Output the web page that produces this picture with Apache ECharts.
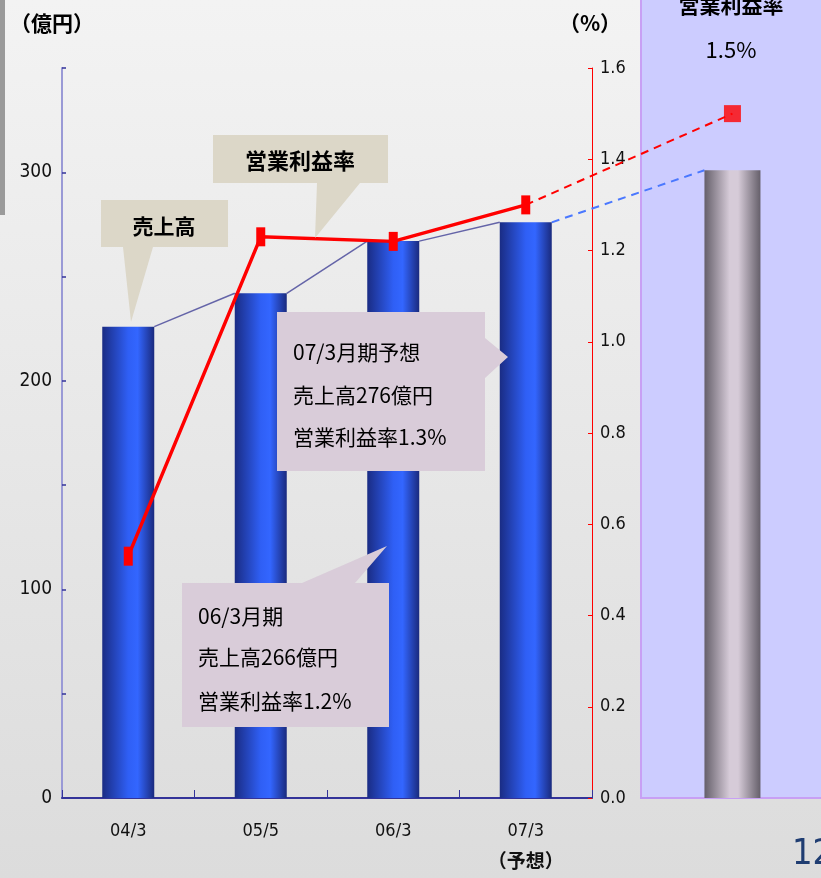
<!DOCTYPE html>
<html><head><meta charset="utf-8">
<script src="https://cdn.jsdelivr.net/npm/echarts@6/dist/echarts.min.js"></script>
<style>html,body{margin:0;padding:0;background:#eeeeee;}#c{width:821px;height:878px;}</style>
</head><body><div id="c"></div>
<script>
// ---- data ----
const categories = ['04/3', '05/5', '06/3', '07/3'];
const salesValues = [226, 242, 267, 276];          // 売上高 (億円)
const marginValues = [0.53, 1.23, 1.22, 1.30];     // 営業利益率 (%)
const forecastSales = 301;                          // next-period bar (right panel)
const forecastMargin = 1.5;                         // next-period margin (%)
const salesTickLabels = [0, 100, 200, 300];
const forecastNote = '（予想）';
const panelTitle = '営業利益率';
const panelValue = '1.5%';
const callout07 = ['07/3月期予想', '売上高276億円', '営業利益率1.3%'];
const callout06 = ['06/3月期', '売上高266億円', '営業利益率1.2%'];
const pageNo = '12';

// ---- layout ----
const W = 821, H = 878;
const GRID = { left: 62, right: 229, top: 68, bottom: 80 };
const plotW = W - GRID.left - GRID.right;
const unit = plotW / categories.length;
const BAR_W = 52, PANEL_BAR_W = 56;
const hb = BAR_W / 2 / unit;
const forecastX = 4.56;
const hpb = PANEL_BAR_W / 2 / unit;
const NARROW = '"Liberation Sans Narrow", "DejaVu Sans Condensed", sans-serif';
const JP = '"Noto Sans CJK JP", sans-serif';

const n = categories.length;
const connectors = [];
for (let i = 0; i < n - 1; i++) {
  connectors.push({ coords: [[i + hb, salesValues[i]], [i + 1 - hb, salesValues[i + 1]]] });
}

const blueGrad = new echarts.graphic.LinearGradient(0, 0, 1, 0, [
  { offset: 0, color: '#1a2c84' }, { offset: 0.5, color: '#2f5ff5' },
  { offset: 0.68, color: '#3366ff' }, { offset: 1, color: '#1a2a7e' }]);
const grayGrad = new echarts.graphic.LinearGradient(0, 0, 1, 0, [
  { offset: 0, color: '#655f6a' }, { offset: 0.45, color: '#d6cbd8' },
  { offset: 0.6, color: '#d6cbd8' }, { offset: 1, color: '#655f6a' }]);

function callout(points, fill) {
  return { type: 'polygon', z: 100, silent: true, shape: { points }, style: { fill } };
}
function txt(x, y, text, font, align, fill) {
  return { type: 'text', z: 101, silent: true, x, y,
    style: { text, font, fill: fill || '#000', align: align || 'left', verticalAlign: 'middle' } };
}

const chart = echarts.init(document.getElementById('c'), null, { renderer: 'canvas' });
chart.setOption({
  animation: false,
  grid: Object.assign({ outerBoundsMode: 'none', containLabel: false }, GRID),
  xAxis: [
    {
      type: 'category', data: categories, boundaryGap: true,
      axisLine: { show: true, onZero: false, lineStyle: { color: '#333399', width: 2 } },
      axisTick: { show: true, inside: true, length: 8, lineStyle: { color: '#333399' } },
      axisLabel: {
        margin: 22, color: '#111',
        formatter: v => v === categories[n - 1] ? '{a|' + v + '}\n{b|' + forecastNote + '}' : '{a|' + v + '}',
        rich: {
          a: { fontFamily: NARROW, fontSize: 18, lineHeight: 22, color: '#111' },
          b: { fontFamily: JP, fontWeight: 'bold', fontSize: 19, lineHeight: 38, color: '#111' }
        }
      },
      splitLine: { show: false }
    },
    { type: 'value', min: -0.5, max: n - 0.5, show: false, splitLine: { show: false },
      axisLine: { onZero: false } }
  ],
  yAxis: [
    {
      type: 'value', min: 0, max: 350, interval: 50, position: 'left',
      axisLine: { show: true, onZero: false, lineStyle: { color: '#9a9ad6', width: 2 } },
      axisTick: { show: true, inside: true, length: 4, lineStyle: { color: '#333399', width: 1.5 } },
      splitLine: { show: false },
      axisLabel: { margin: 10, color: '#111', fontFamily: NARROW, fontSize: 19,
        formatter: v => salesTickLabels.indexOf(v) >= 0 ? String(v) : '' }
    },
    {
      type: 'value', min: 0, max: 1.6, interval: 0.2, position: 'right',
      axisLine: { show: true, onZero: false, lineStyle: { color: '#ff0000', width: 1 } },
      axisTick: { show: true, inside: true, length: 4, lineStyle: { color: '#ff0000' } },
      splitLine: { show: false },
      axisLabel: { margin: 8, color: '#111', fontFamily: NARROW, fontSize: 18,
        formatter: v => v.toFixed(1) }
    }
  ],
  series: [
    { type: 'bar', name: '売上高', xAxisIndex: 0, yAxisIndex: 0, data: salesValues,
      barWidth: BAR_W, itemStyle: { color: blueGrad }, z: 3 },
    { type: 'lines', coordinateSystem: 'cartesian2d', xAxisIndex: 1, yAxisIndex: 0, clip: false,
      data: connectors, lineStyle: { color: '#6464a8', width: 1.5, opacity: 1 }, z: 2 },
    { type: 'lines', coordinateSystem: 'cartesian2d', xAxisIndex: 1, yAxisIndex: 0, clip: false,
      data: [{ coords: [[n - 1 + hb, salesValues[n - 1]], [forecastX - hpb, forecastSales]] }],
      lineStyle: { color: '#4a78ff', width: 2, type: [8, 6], opacity: 1 }, z: 2 },
    { type: 'bar', name: '予想', xAxisIndex: 1, yAxisIndex: 0, clip: false,
      data: [[forecastX, forecastSales]], barWidth: PANEL_BAR_W, itemStyle: { color: grayGrad }, z: 3 },
    { type: 'lines', coordinateSystem: 'cartesian2d', xAxisIndex: 1, yAxisIndex: 1, clip: false,
      data: [{ coords: [[n - 1, marginValues[n - 1]], [forecastX, forecastMargin]] }],
      lineStyle: { color: '#ff0000', width: 2, type: [8, 6], opacity: 1 }, z: 4 },
    { type: 'line', name: '営業利益率', xAxisIndex: 0, yAxisIndex: 1, data: marginValues,
      symbol: 'rect', symbolSize: [9, 19], showSymbol: true,
      lineStyle: { color: '#ff0000', width: 3.5 }, itemStyle: { color: '#ff0000' }, z: 5 },
    { type: 'scatter', xAxisIndex: 1, yAxisIndex: 1, clip: false,
      data: [[forecastX, forecastMargin]], symbol: 'rect', symbolSize: 17,
      itemStyle: { color: '#ff0000' }, z: 6 }
  ],
  graphic: [
    { type: 'rect', z: -100, silent: true, shape: { x: 0, y: 0, width: W, height: H },
      style: { fill: new echarts.graphic.LinearGradient(0, 0, 0, 1, [
        { offset: 0, color: '#f3f3f3' }, { offset: 1, color: '#dcdcdc' }]) } },
    { type: 'rect', z: -90, silent: true, shape: { x: 0, y: 0, width: 5, height: 215 },
      style: { fill: '#9a9a9a' } },
    { type: 'rect', z: -80, silent: true, shape: { x: 641, y: -3, width: 200, height: 801 },
      style: { fill: '#ccccff', stroke: '#c8a0f4', lineWidth: 2 } },
    txt(731, 5, panelTitle, 'bold 21px ' + JP, 'center'),
    txt(731, 50, panelValue, '22px ' + JP, 'center'),
    txt(52, 23, '（億円）', 'bold 21px ' + JP, 'center'),
    txt(590, 23, '（%）', 'bold 21px ' + JP, 'center'),
    txt(792, 855, pageNo, '36px ' + NARROW, 'left', '#1f3d72'),
    callout([[101,200],[228,200],[228,247],[153,247],[131,322],[123,247],[101,247]], '#dcd7c8'),
    txt(164, 226, '売上高', 'bold 21px ' + JP, 'center'),
    callout([[213,135],[388,135],[388,183],[360,183],[315,238],[317,183],[213,183]], '#dcd7c8'),
    txt(300, 161, '営業利益率', 'bold 22px ' + JP, 'center'),
    callout([[277,312],[485,312],[485,338],[508,357],[485,378],[485,471],[277,471]], '#d9ccd9'),
    txt(293, 352, callout07[0], '21px ' + JP),
    txt(293, 395, callout07[1], '21px ' + JP),
    txt(293, 437, callout07[2], '21px ' + JP),
    callout([[182,583],[302,583],[387,546],[355,583],[389,583],[389,727],[182,727]], '#d9ccd9'),
    txt(198, 616, callout06[0], '21px ' + JP),
    txt(198, 657, callout06[1], '21px ' + JP),
    txt(198, 701, callout06[2], '21px ' + JP)
  ]
});
</script></body></html>
